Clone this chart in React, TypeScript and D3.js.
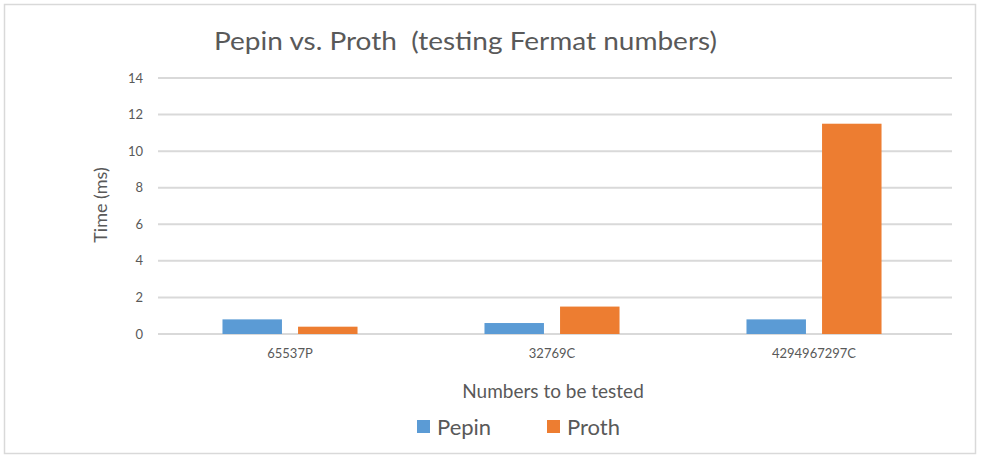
import React, { useEffect, useRef } from 'react';
import * as d3 from 'd3';

const categories = ['65537P', '32769C', '4294967297C'];
const seriesNames = ['Pepin', 'Proth'];
const pepin = [0.8, 0.6, 0.8];
const proth = [0.4, 1.5, 11.5];
const yTicks = [0, 2, 4, 6, 8, 10, 12, 14];
const colors = ['#5b9bd5', '#ed7d31'];

const W = 981;
const H = 457;
const margin = { left: 158, right: 29, top: 78, bottom: 123 };

export default function App() {
	const ref = useRef<SVGSVGElement>(null);

	useEffect(() => {
		const svg = d3.select(ref.current);
		svg.selectAll('*').remove();
		const font = 'Lato, "Open Sans", sans-serif';

		// frame
		svg.append('rect')
			.attr('x', 4.5)
			.attr('y', 4.5)
			.attr('width', 971)
			.attr('height', 449)
			.attr('fill', '#fff')
			.attr('stroke', '#d9d9d9')
			.attr('stroke-width', 1.5);

		const x0 = d3
			.scaleBand()
			.domain(categories)
			.range([159, 945]);
		const x1 = d3
			.scaleBand()
			.domain(seriesNames)
			.range([0, x0.bandwidth()])
			.paddingInner(0.213)
			.paddingOuter(0.84);
		const y = d3
			.scaleLinear()
			.domain([0, 14])
			.range([H - margin.bottom, margin.top]);

		// grid
		svg.append('g')
			.selectAll('line')
			.data(yTicks)
			.enter()
			.append('line')
			.attr('x1', margin.left)
			.attr('x2', W - margin.right)
			.attr('y1', d => y(d))
			.attr('y2', d => y(d))
			.attr('stroke', '#d9d9d9')
			.attr('stroke-width', 2);

		// y tick labels
		svg.append('g')
			.selectAll('text')
			.data(yTicks)
			.enter()
			.append('text')
			.attr('x', 143)
			.attr('y', d => y(d))
			.attr('dy', '0.35em')
			.attr('text-anchor', 'end')
			.attr('font-family', font)
			.attr('font-size', 13)
			.attr('fill', '#595959')
			.text(d => d);

		// bars
		const data = categories.map((c, i) => ({ c, vals: [pepin[i], proth[i]] }));
		const groups = svg.append('g')
			.selectAll('g')
			.data(data)
			.enter()
			.append('g')
			.attr('transform', d => `translate(${x0(d.c)},0)`);
		groups.selectAll('rect')
			.data(d => d.vals.map((v, j) => ({ s: seriesNames[j], v, j })))
			.enter()
			.append('rect')
			.attr('x', d => x1(d.s))
			.attr('width', x1.bandwidth())
			.attr('y', d => y(d.v))
			.attr('height', d => y(0) - y(d.v))
			.attr('fill', d => colors[d.j]);

		// category labels
		svg.append('g')
			.selectAll('text')
			.data(categories)
			.enter()
			.append('text')
			.attr('x', d => x0(d) + x0.bandwidth() / 2)
			.attr('y', 358)
			.attr('text-anchor', 'middle')
			.attr('font-family', font)
			.attr('font-size', 13)
			.attr('fill', '#595959')
			.text(d => d);

		// title
		svg.append('text')
			.attr('x', 214)
			.attr('y', 50)
			.attr('font-family', font)
			.attr('font-size', 25)
			.attr('fill', '#595959')
			.attr('textLength', 503)
			.attr('lengthAdjust', 'spacingAndGlyphs')
			.style('white-space', 'pre')
			.text('Pepin vs. Proth  (testing Fermat numbers)');

		// axis titles
		svg.append('text')
			.attr('x', 553)
			.attr('y', 398)
			.attr('text-anchor', 'middle')
			.attr('font-family', font)
			.attr('font-size', 19)
			.attr('fill', '#595959')
			.text('Numbers to be tested');
		svg.append('text')
			.attr('transform', `translate(107,${205}) rotate(-90)`)
			.attr('text-anchor', 'middle')
			.attr('font-family', font)
			.attr('font-size', 18)
			.attr('fill', '#595959')
			.text('Time (ms)');

		// legend
		const legendX = [417, 547];
		const legend = svg.append('g')
			.selectAll('g')
			.data(seriesNames)
			.enter()
			.append('g')
			.attr('transform', (d, i) => `translate(${legendX[i]},420)`);
		legend.append('rect')
			.attr('width', 13)
			.attr('height', 13)
			.attr('fill', (d, i) => colors[i]);
		legend.append('text')
			.attr('x', 20)
			.attr('y', 15)
			.attr('font-family', font)
			.attr('font-size', 22)
			.attr('fill', '#595959')
			.text(d => d);
	}, []);

	return (
		<svg
			ref={ref}
			width={W}
			height={H}
			style={{ position: 'absolute', left: 0, top: 0, background: '#fff' }}
		/>
	);
}
